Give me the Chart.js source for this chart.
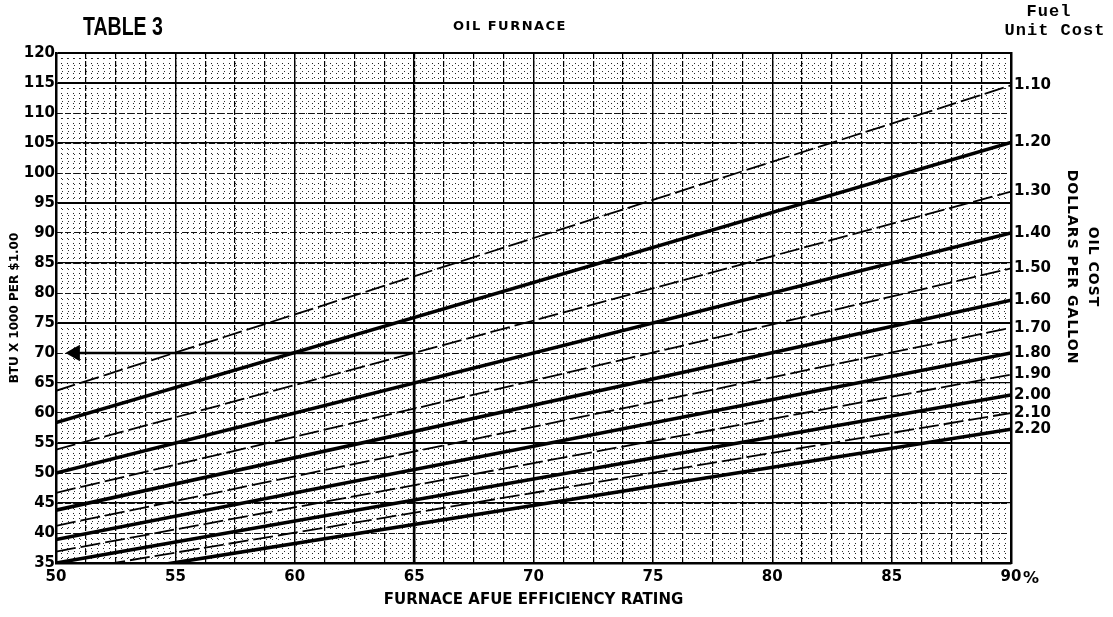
<!DOCTYPE html>
<html>
<head>
<meta charset="utf-8">
<script src="https://cdn.jsdelivr.net/npm/chart.js@4.4.1/dist/chart.umd.min.js"></script>
<style>
  html, body { margin: 0; padding: 0; background: #fff; }
  #wrap { width: 1113px; height: 617px; position: relative; }
</style>
</head>
<body>
<div id="wrap"><canvas id="chart"></canvas></div>
<script>
// oil cost per gallon, one line each
var prices = [1.10, 1.20, 1.30, 1.40, 1.50, 1.60, 1.70, 1.80, 1.90, 2.00, 2.10, 2.20];
// BTU x 1000 per $1.00, read at the 50% and 90% AFUE edges
var btuAt50 = [63.7, 58.4, 53.9, 50.0, 46.7, 43.8, 41.2, 38.9, 36.9, 35.0, 33.4, 31.9];
var btuAt90 = [114.6, 105.1, 96.9, 90.0, 84.1, 78.8, 74.2, 70.0, 66.4, 63.0, 60.0, 57.3];
var afueRange = [50, 90];
var btuRange = [35, 120];
// worked example drawn on the sheet: 65% -> 70
var exampleAfue = 65;
var exampleBtu = 70;

var datasets = prices.map(function (p, i) {
  var heavy = i % 2 === 1;
  return {
    label: p.toFixed(2),
    data: [{x: afueRange[0], y: btuAt50[i]}, {x: afueRange[1], y: btuAt90[i]}],
    borderColor: '#000',
    borderWidth: heavy ? 3.6 : 1.8,
    borderDash: heavy ? [] : [20, 5],
    pointRadius: 0,
    fill: false
  };
});

datasets.push({
  label: 'example',
  data: [{x: afueRange[0] + 0.8, y: exampleBtu}, {x: exampleAfue, y: exampleBtu}, {x: exampleAfue, y: btuRange[0]}],
  borderColor: '#000',
  backgroundColor: '#000',
  borderWidth: 2.6,
  pointRadius: [7, 0, 0],
  pointStyle: 'triangle',
  rotation: -90,
  fill: false
});

function hideSize(horizontal) {
  return function (s) { if (horizontal) s.height = 0; else s.width = 0; };
}

var tickFont = { family: 'DejaVu Sans', size: 15, weight: 'bold' };

var textPlugin = {
  id: 'sheetText',
  afterDraw: function (chart) {
    var ctx = chart.ctx;
    ctx.save();
    ctx.fillStyle = '#000';

    // TABLE 3, condensed
    ctx.save();
    ctx.font = 'bold 25px "Liberation Sans"';
    ctx.textBaseline = 'alphabetic';
    ctx.translate(83, 35);
    ctx.scale(0.78, 1);
    ctx.fillText('TABLE 3', 0, 0);
    ctx.restore();

    ctx.textAlign = 'center';
    ctx.textBaseline = 'middle';
    ctx.font = 'bold 13px "DejaVu Sans"';
    ctx.letterSpacing = '1.5px';
    ctx.fillText('OIL FURNACE', 510, 27);

    ctx.font = 'bold 17px "Liberation Mono"';
    ctx.letterSpacing = '1px';
    ctx.fillText('Fuel', 1049, 12);
    ctx.fillText('Unit Cost', 1055, 31);

    ctx.letterSpacing = '0px';
    ctx.font = 'bold 16px "DejaVu Sans"';
    ctx.fillText('%', 1031, 579);

    // right title, reads top to bottom
    ctx.save();
    ctx.translate(1082, 267);
    ctx.rotate(Math.PI / 2);
    ctx.font = 'bold 14px "DejaVu Sans"';
    ctx.letterSpacing = '1px';
    ctx.fillText('OIL COST', 0, -11);
    ctx.fillText('DOLLARS PER GALLON', 0, 10);
    ctx.restore();

    ctx.restore();
  }
};

new Chart(document.getElementById('chart'), {
  type: 'line',
  data: { datasets: datasets },
  options: {
    responsive: true,
    maintainAspectRatio: false,
    animation: false,
    layout: { padding: { top: 53, left: 0, right: 0, bottom: 0 } },
    plugins: {
      legend: { display: false },
      tooltip: { enabled: false }
    },
    scales: {
      xFine: {
        type: 'linear', position: 'bottom', min: afueRange[0], max: afueRange[1],
        ticks: { display: false, stepSize: 0.25, autoSkip: false },
        grid: { color: '#222', lineWidth: 1, drawTicks: false, z: -3 },
        border: { display: false, dash: [1, 4] },
        afterFit: hideSize(true)
      },
      yFine: {
        type: 'linear', position: 'left', min: btuRange[0], max: btuRange[1],
        ticks: { display: false, stepSize: 1, autoSkip: false },
        grid: { color: '#333', lineWidth: 1, drawTicks: false, z: -3 },
        border: { display: false, dash: [1, 5] },
        afterFit: hideSize(false)
      },
      xMinor: {
        type: 'linear', position: 'bottom', min: afueRange[0], max: afueRange[1],
        ticks: { display: false, stepSize: 1.25, autoSkip: false },
        grid: { color: '#000', lineWidth: 1.2, drawTicks: false, z: -2 },
        border: { display: false, dash: [6, 2] },
        afterFit: hideSize(true)
      },
      yMinor: {
        type: 'linear', position: 'left', min: btuRange[0], max: btuRange[1],
        ticks: { display: false, stepSize: 5, autoSkip: false },
        grid: { color: '#111', lineWidth: 1, drawTicks: false, z: -2 },
        border: { display: false, dash: [6, 3] },
        afterFit: hideSize(false)
      },
      x: {
        type: 'linear', position: 'bottom', min: afueRange[0], max: afueRange[1],
        ticks: { stepSize: 5, padding: 5, color: '#000', font: tickFont },
        grid: { color: '#000', lineWidth: 1.4, drawTicks: false, z: -1 },
        border: { color: '#000', width: 2.5 },
        title: {
          display: true, text: 'FURNACE AFUE EFFICIENCY RATING', color: '#000',
          font: { family: 'DejaVu Sans', size: 15, weight: 'bold' },
          padding: { top: 8, bottom: 8 }
        },
        afterFit: function (s) { s.height = 54; }
      },
      y: {
        type: 'linear', position: 'left', min: btuRange[0], max: btuRange[1],
        ticks: { stepSize: 5, padding: 1, color: '#000', font: tickFont },
        grid: {
          color: '#000', drawTicks: false, z: -1,
          lineWidth: function (c) {
            var v = c.tick.value;
            if (v === 120 || (v - 15) % 20 === 0) return 2;
            return (v % 10 === 5) ? 1.3 : 0;
          }
        },
        border: { color: '#000', width: 2.5 },
        title: {
          display: true, text: 'BTU X 1000 PER $1.00', color: '#000',
          font: { family: 'DejaVu Sans', size: 12, weight: 'bold' },
          padding: { top: 8, bottom: 8 }
        },
        afterFit: function (s) { s.width = 56; }
      },
      yPrice: {
        type: 'linear', position: 'right', min: btuRange[0], max: btuRange[1],
        afterBuildTicks: function (s) {
          s.ticks = btuAt90.map(function (v) { return { value: v }; });
        },
        ticks: {
          autoSkip: false, padding: 3, color: '#000',
          font: { family: 'DejaVu Sans', size: 15, weight: 'bold' },
          callback: function (v, i) { return prices[i].toFixed(2); }
        },
        grid: { drawOnChartArea: false, drawTicks: false },
        border: { color: '#000', width: 2.5 },
        afterFit: function (s) { s.width = 102; }
      }
    }
  },
  plugins: [textPlugin]
});
</script>
</body>
</html>
